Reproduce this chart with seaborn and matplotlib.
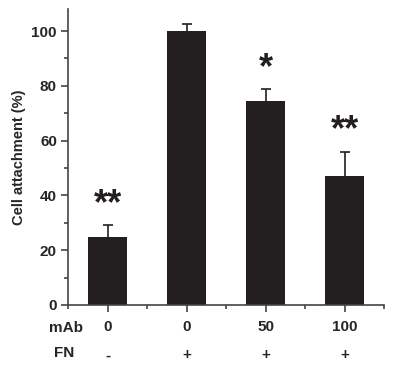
import numpy as np
import pandas as pd
import matplotlib
matplotlib.use("Agg")
import matplotlib.pyplot as plt
import seaborn as sns
from matplotlib.ticker import MultipleLocator, FixedLocator

mab = ["0", "0", "50", "100"]
fn = ["-", "+", "+", "+"]
attachment = [25, 100, 74.5, 47]
err_upper = [4.2, 2.4, 4.3, 9.0]
stars = ["**", "", "*", "**"]

sns.set_style("ticks")
plt.rcParams['font.family'] = ['Liberation Sans', 'DejaVu Sans']
plt.rcParams['font.weight'] = 'bold'

fig = plt.figure(figsize=(4.0, 3.66), dpi=100)
ax = fig.add_axes([0.17, 0.1667, 0.79, 0.8083])

df = pd.DataFrame({"group": [f"g{i}" for i in range(len(mab))], "value": attachment})
bar_color = "#231f20"
sns.barplot(data=df, x="group", y="value", color=bar_color, width=0.5,
            saturation=1, ax=ax, errorbar=None, linewidth=0)
xs = np.arange(len(attachment))
_, caps, _ = ax.errorbar(xs, attachment, yerr=[np.zeros(len(err_upper)), err_upper],
                         fmt="none", ecolor=bar_color, elinewidth=1.2,
                         capsize=3.5, capthick=1.2)
caps[0].set_visible(False)

for x, v, e, s in zip(xs, attachment, err_upper, stars):
    if s:
        ax.text(x, v + e + 7.5, s, ha="center", va="center", fontsize=26,
                fontweight="bold", color=bar_color)

ax.set_xlim(-0.5, 3.5)
ax.set_ylim(0, 108)
ax.yaxis.set_major_locator(MultipleLocator(20))
ax.yaxis.set_minor_locator(MultipleLocator(10))
ax.xaxis.set_minor_locator(FixedLocator([-0.5, 0.5, 1.5, 2.5, 3.5]))
ax.set_xticks(xs)
ax.set_xticklabels(mab, fontsize=11, fontweight="bold")
for lab in ax.get_yticklabels():
    lab.set_fontsize(11)
    lab.set_fontweight("bold")
ax.tick_params(axis="both", which="major", length=5, width=1.2, color="#444444", pad=6)
ax.tick_params(axis="both", which="minor", length=3, width=1.2, color="#444444")
ax.tick_params(axis="y", pad=3)
ax.set_xlabel("")
ax.set_ylabel("Cell attachment (%)", fontsize=10.5, fontweight="bold", labelpad=4)

for side in ["top", "right"]:
    ax.spines[side].set_visible(False)
for side in ["left", "bottom"]:
    ax.spines[side].set_color("#444444")
    ax.spines[side].set_linewidth(1.2)

trans = ax.get_xaxis_transform()
for x, f in zip(xs, fn):
    ax.text(x, -0.17, f, transform=trans, ha="center", va="center",
            fontsize=11, fontweight="bold")
fig.text(49 / 400, 1 - 328 / 366, "mAb", ha="left", va="center", fontsize=11, fontweight="bold")
fig.text(54 / 400, 1 - 353 / 366, "FN", ha="left", va="center", fontsize=11, fontweight="bold")

fig.savefig("out.png", dpi=100)
